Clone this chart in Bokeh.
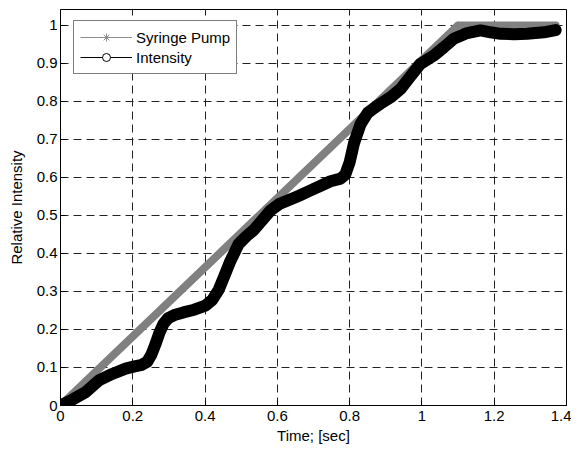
from bokeh.plotting import figure
from bokeh.models import Range1d, FixedTicker, Legend, LegendItem
from bokeh.embed import file_html
from bokeh.resources import INLINE

# ---- data ----
pump_x = [0.0, 1.10, 1.37]
pump_y = [0.0, 1.00, 1.00]

intensity_x = [0.000, 0.032, 0.069, 0.106, 0.143, 0.180, 0.205, 0.225, 0.240, 0.252,
               0.263, 0.274, 0.285, 0.298, 0.315, 0.340, 0.370, 0.401, 0.420, 0.438,
               0.455, 0.470, 0.493, 0.515, 0.535, 0.560, 0.581, 0.605, 0.627, 0.660,
               0.692, 0.720, 0.747, 0.775, 0.788, 0.800, 0.812, 0.830, 0.850, 0.868,
               0.885, 0.915, 0.941, 0.965, 0.996, 1.033, 1.060, 1.088, 1.125, 1.162,
               1.190, 1.218, 1.255, 1.291, 1.337, 1.370]
intensity_y = [0.000, 0.015, 0.035, 0.066, 0.083, 0.097, 0.103, 0.107, 0.115, 0.135,
               0.162, 0.192, 0.215, 0.230, 0.238, 0.245, 0.252, 0.263, 0.278, 0.305,
               0.345, 0.380, 0.425, 0.446, 0.462, 0.490, 0.513, 0.530, 0.539, 0.552,
               0.566, 0.578, 0.590, 0.597, 0.608, 0.640, 0.690, 0.740, 0.770, 0.783,
               0.794, 0.812, 0.833, 0.862, 0.899, 0.921, 0.942, 0.965, 0.980, 0.987,
               0.982, 0.978, 0.977, 0.978, 0.982, 0.988]

x_ticks = [0, 0.2, 0.4, 0.6, 0.8, 1.0, 1.2, 1.4]
x_tick_labels = ["0", "0.2", "0.4", "0.6", "0.8", "1", "1.2", "1.4"]
y_ticks = [0, 0.1, 0.2, 0.3, 0.4, 0.5, 0.6, 0.7, 0.8, 0.9, 1.0]
y_tick_labels = ["0", "0.1", "0.2", "0.3", "0.4", "0.5", "0.6", "0.7", "0.8", "0.9", "1"]

FONT = "Liberation Sans"
FS = "15px"

p = figure(width=571, height=448, output_backend="svg", toolbar_location=None,
           x_range=Range1d(0, 1.4), y_range=Range1d(0, 1.042),
           min_border_left=60, min_border_right=5, min_border_top=9, min_border_bottom=43)

p.background_fill_color = "white"
p.border_fill_color = "white"
p.outline_line_color = "black"
p.outline_line_width = 1

# grids
for g in (p.xgrid, p.ygrid):
    g.grid_line_color = "#222222"
    g.grid_line_dash = "8 5"
    g.grid_line_width = 1
p.xgrid.ticker = FixedTicker(ticks=x_ticks)
p.ygrid.ticker = FixedTicker(ticks=y_ticks)

# axes
p.xaxis.ticker = FixedTicker(ticks=x_ticks)
p.xaxis.major_label_overrides = {t: l for t, l in zip(x_ticks, x_tick_labels)}
p.yaxis.ticker = FixedTicker(ticks=y_ticks)
p.yaxis.major_label_overrides = {t: l for t, l in zip(y_ticks, y_tick_labels)}
for ax in (p.xaxis[0], p.yaxis[0]):
    ax.axis_line_color = "black"
    ax.major_tick_line_color = "black"
    ax.major_tick_in = 5
    ax.major_tick_out = 0
    ax.minor_tick_line_color = None
    ax.major_label_text_font = FONT
    ax.major_label_text_font_size = FS
    ax.major_label_text_color = "black"
    ax.axis_label_text_font = FONT
    ax.axis_label_text_font_size = FS
    ax.axis_label_text_font_style = "normal"
    ax.axis_label_text_color = "black"
p.xaxis.axis_label = "Time; [sec]"
p.yaxis.axis_label = "Relative Intensity"
p.xaxis.major_label_standoff = 5
p.xaxis.axis_label_standoff = 3
p.yaxis.major_label_standoff = 3
p.yaxis.axis_label_standoff = 9

# legend proxies: thin line + marker drawn beneath the thick curves
lg1 = p.line(pump_x, pump_y, line_color="#8c8c8c", line_width=1)
lg1m = p.scatter(pump_x, pump_y, marker="asterisk", size=8, line_color="#8c8c8c", line_width=1)
lg2 = p.line(intensity_x, intensity_y, line_color="black", line_width=1)
lg2m = p.scatter(intensity_x[1:2], intensity_y[1:2], marker="circle", size=8,
                 line_color="black", fill_color="white", line_width=1)

# data lines
p.line(pump_x, pump_y, line_color="#808080", line_width=8, line_join="round", line_cap="round")
p.line(intensity_x, intensity_y, line_color="black", line_width=12, line_join="round", line_cap="round")

legend = Legend(items=[LegendItem(label="Syringe Pump", renderers=[lg1, lg1m]),
                       LegendItem(label="Intensity", renderers=[lg2, lg2m])],
                location=(13, 331))
legend.label_text_font = FONT
legend.label_text_font_size = FS
legend.label_text_color = "black"
legend.glyph_width = 52
legend.glyph_height = 20
legend.label_height = 20
legend.label_standoff = 4
legend.padding = 6
legend.spacing = 0
legend.margin = 0
legend.border_line_color = "black"
legend.border_line_width = 1
legend.background_fill_color = "white"
legend.background_fill_alpha = 1
p.add_layout(legend, "center")

open("out.html", "w").write(file_html(p, INLINE))
